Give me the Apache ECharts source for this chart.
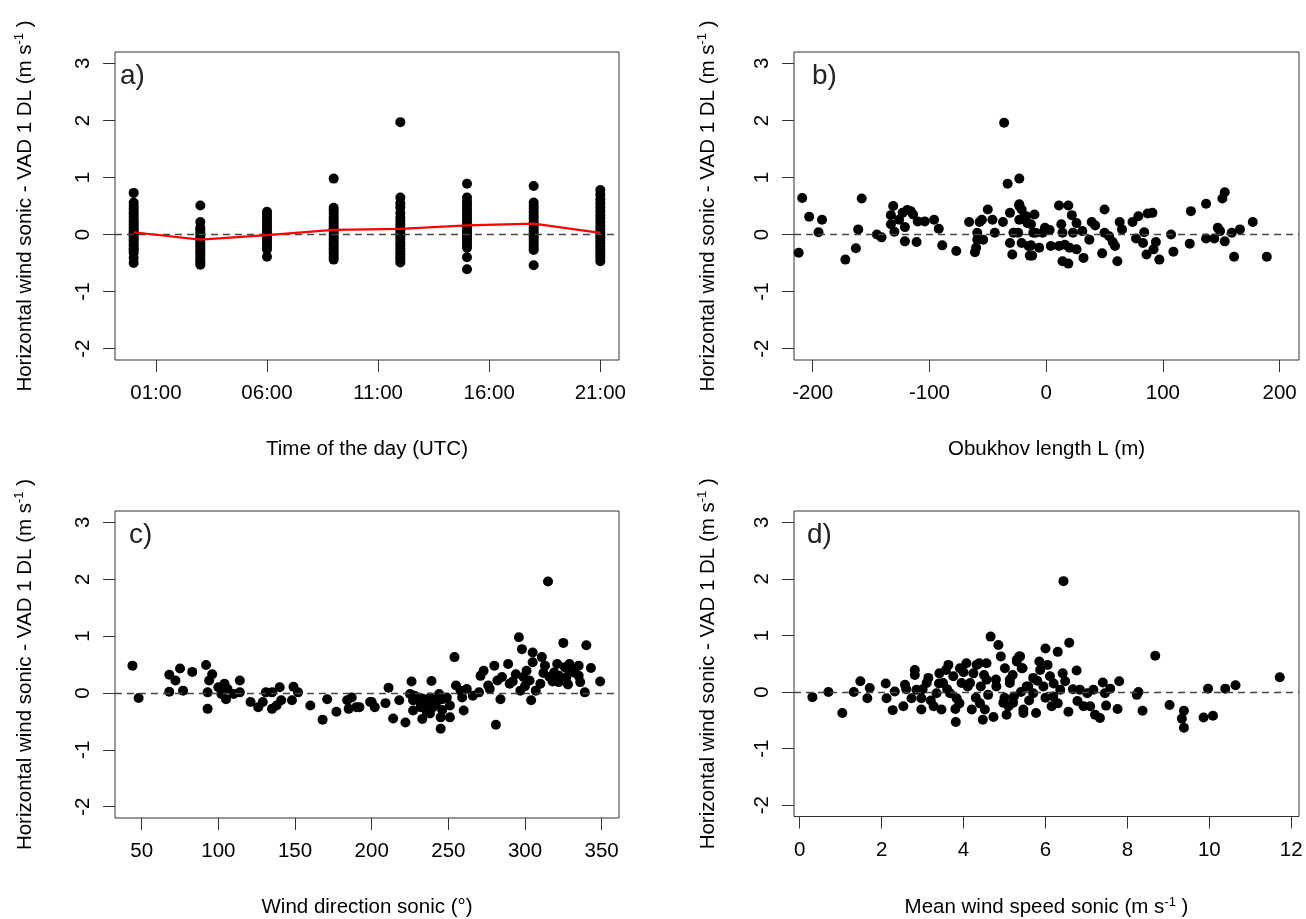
<!DOCTYPE html>
<html>
<head>
<meta charset="utf-8">
<script src="https://cdn.jsdelivr.net/npm/echarts@6/dist/echarts.min.js"></script>
<style>
  html, body { margin: 0; padding: 0; background: #fff; }
  #chart { width: 1306px; height: 919px; }
</style>
</head>
<body>
<div id="chart"></div>
<script>
// a) difference per time of day (hours UTC), one column per 3-hourly slot
const hoursA = [0, 3, 6, 9, 12, 15, 18, 21];
const diffByHour = [
  [0.73, 0.56, 0.50, 0.45, 0.40, 0.36, 0.31, 0.26, 0.22, 0.18, 0.13, 0.09, 0.05, 0.02, -0.02, -0.06, -0.10, -0.15, -0.19, -0.24, -0.28, -0.32, -0.41, -0.50],
  [0.51, 0.22, 0.12, 0.08, 0.03, -0.02, -0.06, -0.10, -0.15, -0.19, -0.23, -0.28, -0.32, -0.36, -0.41, -0.45, -0.49, -0.53],
  [0.40, 0.34, 0.28, 0.22, 0.17, 0.12, 0.07, 0.03, -0.02, -0.06, -0.11, -0.16, -0.21, -0.26, -0.39],
  [0.98, 0.47, 0.42, 0.37, 0.31, 0.26, 0.21, 0.16, 0.11, 0.06, 0.01, -0.04, -0.09, -0.14, -0.19, -0.24, -0.29, -0.34, -0.39, -0.44],
  [1.97, 0.65, 0.55, 0.48, 0.38, 0.30, 0.24, 0.18, 0.12, 0.07, 0.02, -0.03, -0.08, -0.14, -0.19, -0.24, -0.30, -0.35, -0.40, -0.44, -0.49],
  [0.89, 0.65, 0.58, 0.52, 0.46, 0.40, 0.34, 0.28, 0.22, 0.17, 0.12, 0.07, 0.02, -0.03, -0.08, -0.13, -0.18, -0.23, -0.40, -0.61],
  [0.85, 0.56, 0.50, 0.45, 0.39, 0.33, 0.28, 0.22, 0.17, 0.12, 0.07, 0.02, -0.03, -0.08, -0.13, -0.18, -0.23, -0.27, -0.54],
  [0.78, 0.70, 0.62, 0.55, 0.48, 0.41, 0.34, 0.28, 0.22, 0.16, 0.10, 0.05, 0.00, -0.05, -0.10, -0.15, -0.20, -0.25, -0.30, -0.36, -0.41, -0.47]
];
const meanByHour = [0.04, -0.09, -0.01, 0.08, 0.10, 0.16, 0.19, 0.03];

// b) Obukhov length L (m)
const obukhovL = [-212, -209, -203, -195, -192, -172, -163, -161, -158, -145, -141, -133, -131, -133, -130, -126, -123, -121, -121, -119,
  -116, -114, -111, -110, -104, -96, -92, -89, -77, -66, -61, -60, -59, -59, -57, -55, -54, -50, -46, -44,
  -37, -36, -33, -31, -31, -29, -28, -23, -23, -21, -23, -21, -24, -17, -16, -15, -14, -23, -20, -13,
  -10, -11, -9, -13, -12, -6, -3, -1, 3, 4, 11, 11, 13, 14, 14, 16, 19, 19, 20, 22,
  23, 26, 26, 31, 32, 37, 39, 42, 48, 50, 50, 54, 57, 59, 61, 63, 65, 74, 79, 77,
  84, 83, 87, 91, 86, 92, 94, 97, 107, 109, 123, 124, 137, 137, 144, 147, 149, 151, 153, 153,
  159, 161, 166, 177, 189];
const diffL = [-0.32, 0.64, 0.31, 0.04, 0.26, -0.44, -0.24, 0.09, 0.63, 0.00, -0.05, 0.34, 0.50, 0.18, 0.05, 0.26, 0.38, -0.12, 0.13, 0.43,
  0.41, 0.35, -0.13, 0.23, 0.23, 0.26, 0.10, -0.19, -0.29, 0.22, -0.31, -0.23, 0.03, -0.09, 0.22, 0.26, -0.09, 0.44, 0.26, 0.03,
  0.22, 1.96, 0.89, 0.38, -0.15, -0.35, 0.03, 0.98, 0.53, 0.44, 0.26, -0.15, 0.03, 0.32, 0.20, -0.20, -0.37, 0.50, 0.28, 0.18,
  0.35, 0.03, 0.03, -0.19, -0.37, -0.23, 0.03, 0.12, 0.08, -0.20, 0.51, -0.20, 0.18, 0.03, -0.47, -0.18, 0.51, -0.51, -0.23, 0.34,
  0.03, 0.20, -0.26, 0.06, -0.41, -0.09, 0.22, 0.16, -0.33, 0.44, 0.03, -0.03, -0.13, -0.20, -0.47, 0.22, 0.09, 0.22, 0.32, -0.07,
  0.04, -0.15, 0.37, 0.38, -0.35, -0.26, -0.13, -0.44, 0.00, -0.30, -0.16, 0.41, 0.54, -0.07, -0.07, 0.12, 0.06, 0.63, 0.74, -0.12,
  0.03, -0.39, 0.09, 0.22, -0.39];

// c) wind direction sonic (deg)
const windDir = [44, 48, 68, 72, 68, 75, 77, 83, 92, 93, 93, 96, 94, 100, 102, 104, 105, 106, 110, 114,
  114, 121, 126, 129, 131, 135, 135, 138, 140, 141, 148, 149, 152, 160, 168, 171, 177, 184, 185, 187,
  190, 199, 192, 200, 202, 209, 211, 214, 218, 222, 226, 225, 227, 227, 230, 232, 233, 235, 236, 238,
  239, 240, 241, 244, 245, 245, 246, 249, 251, 251, 254, 255, 259, 258, 260, 262, 266, 270, 271, 273,
  276, 277, 280, 281, 282, 284, 285, 289, 290, 294, 296, 298, 297, 299, 301, 303, 304, 305, 307, 305,
  310, 311, 313, 315, 316, 319, 321, 322, 325, 326, 327, 329, 332, 335, 336, 339, 340, 343, 349,
  232, 236, 228, 242, 238, 233, 246, 292, 300, 312, 318, 322, 330, 328, 335];
const diffDir = [0.48, -0.09, 0.32, 0.22, 0.02, 0.43, 0.04, 0.37, 0.49, 0.01, -0.28, 0.33, 0.22, 0.10, -0.02, 0.16, -0.11, 0.07, -0.02, 0.22,
  0.01, -0.16, -0.25, -0.16, 0.01, -0.28, 0.01, -0.22, 0.10, -0.13, -0.13, 0.11, 0.01, -0.22, -0.47, -0.11, -0.33, -0.13, -0.28, -0.08,
  -0.25, -0.16, -0.25, -0.16, -0.25, -0.18, 0.09, -0.45, -0.13, -0.52, 0.20, -0.02, -0.13, -0.31, -0.08, -0.25, -0.46, -0.16, -0.34, -0.08,
  0.21, -0.25, -0.13, -0.02, -0.43, -0.63, -0.11, -0.08, -0.43, -0.22, 0.63, 0.13, -0.08, 0.04, -0.31, 0.07, -0.05, 0.01, 0.30, 0.39,
  0.13, 0.07, 0.48, -0.56, 0.22, -0.11, 0.28, 0.51, 0.16, 0.33, 0.98, 0.77, 0.04, 0.28, 0.39, 0.22, -0.13, 0.71, 0.04, 0.54,
  0.16, 0.63, 0.48, 1.96, 0.28, 0.36, 0.51, 0.19, 0.88, 0.45, 0.28, 0.51, 0.36, 0.48, 0.19, 0.01, 0.84, 0.44, 0.20,
  -0.20, -0.28, -0.05, -0.18, -0.36, -0.10, -0.30, 0.20, 0.12, 0.35, 0.20, 0.30, 0.40, 0.15, 0.30];

// d) mean wind speed sonic (m/s)
const windSpeed = [0.31, 0.70, 1.04, 1.32, 1.48, 1.65, 1.71, 2.10, 2.12, 2.27, 2.32, 2.53, 2.57, 2.73, 2.81, 2.81, 2.85, 2.97, 2.97, 3.10,
  3.14, 3.27, 3.34, 3.41, 3.46, 3.50, 3.57, 3.63, 3.67, 3.75, 3.81, 3.83, 3.91, 3.95, 4.07, 4.16, 4.20, 4.24, 4.32, 4.38,
  4.42, 4.47, 4.52, 4.56, 4.56, 4.66, 4.73, 4.79, 4.85, 4.91, 4.97, 5.01, 5.05, 5.13, 5.23, 5.30, 5.36, 5.42, 5.46, 5.54,
  5.13, 5.21, 5.30, 5.38, 5.44, 5.46, 5.58, 5.70, 5.77, 5.85, 5.87, 5.95, 6.00, 6.05, 6.11, 6.15, 6.19, 6.30, 6.36, 6.42,
  6.44, 6.48, 6.56, 6.58, 6.67, 6.76, 6.78, 6.84, 6.93, 7.02, 7.09, 7.17, 7.21, 7.33, 7.40, 7.45, 7.48, 7.58, 7.76, 7.80,
  8.23, 8.27, 8.37, 8.68, 9.03, 9.38, 9.33, 9.38, 9.86, 9.97, 10.09, 10.39, 10.64, 11.72,
  3.0, 3.2, 3.6, 3.9, 4.1, 4.3, 4.5, 4.6, 4.8, 5.0, 5.2, 5.4, 5.6, 5.8, 6.0, 6.2, 4.0, 3.4, 2.6, 3.8, 4.4, 5.1, 5.7, 6.3];
const diffSpeed = [-0.09, 0.00, -0.37, 0.00, 0.19, -0.11, 0.07, 0.15, -0.11, -0.32, 0.01, -0.25, 0.13, -0.11, 0.39, 0.30, 0.04, -0.31, -0.11, 0.16,
  0.25, -0.25, -0.02, 0.33, -0.31, 0.16, 0.39, 0.48, -0.02, 0.28, -0.53, -0.11, 0.42, 0.16, 0.51, 0.16, -0.31, 0.33, 0.48, 0.51,
  0.10, -0.49, -0.31, 0.51, 0.22, 0.98, -0.44, 0.22, 0.83, 0.63, -0.19, 0.42, -0.40, 0.16, -0.08, 0.54, 0.63, 0.42, -0.31, 0.10,
  0.22, -0.19, 0.57, 0.63, 0.42, -0.37, 0.10, -0.02, -0.37, 0.54, 0.39, 0.10, 0.77, 0.48, 0.28, -0.25, -0.08, 0.71, 0.04, 0.33,
  1.96, 0.19, -0.35, 0.87, 0.05, 0.38, -0.16, 0.04, -0.25, -0.02, -0.25, 0.04, -0.40, -0.46, 0.17, -0.02, -0.24, 0.06, -0.30, 0.19,
  -0.05, 0.00, -0.33, 0.64, -0.23, -0.33, -0.47, -0.63, -0.45, 0.06, -0.42, 0.06, 0.12, 0.26,
  0.05, -0.15, 0.05, -0.20, 0.10, -0.10, 0.30, -0.05, 0.10, -0.10, 0.30, 0.00, -0.15, 0.20, -0.10, 0.15, 0.35, 0.15, 0.05, -0.30, -0.20, -0.25, 0.25, -0.20];

const yTicks = [-2, -1, 0, 1, 2, 3];
const hourTicks = [1, 6, 11, 16, 21];
const obukhovTicks = [-200, -100, 0, 100, 200];
const dirTicks = [50, 100, 150, 200, 250, 300, 350];
const speedTicks = [0, 2, 4, 6, 8, 10, 12];

const FONT = 'Arial, "Liberation Sans", sans-serif';
const FS = 20.5;
const zip = (xs, ys) => xs.map((x, i) => [x, ys[i]]);

const chart = echarts.init(document.getElementById('chart'));

const grids = [
  { left: 115, top: 52, width: 504, height: 308 },
  { left: 794, top: 52, width: 505, height: 308 },
  { left: 115, top: 511, width: 504, height: 307 },
  { left: 794, top: 511, width: 505, height: 307 }
].map(g => Object.assign(g, { show: true, borderColor: '#333', borderWidth: 1, backgroundColor: '#fff' }));

const nameStyle = {
  fontFamily: FONT, fontSize: FS, color: '#000',
  rich: { sup: { fontFamily: FONT, fontSize: 13, color: '#000', verticalAlign: 'top', padding: [0, 0, 11, 0] } }
};

function xAxisOf(i, min, max, ticks, name, fmt) {
  return {
    type: 'value', gridIndex: i, min: min, max: max,
    name: name, nameLocation: 'middle', nameGap: 79,
    nameTextStyle: nameStyle,
    axisLine: { show: false, onZero: false },
    axisTick: { show: true, length: 12, customValues: ticks, lineStyle: { color: '#333' } },
    axisLabel: { customValues: ticks, margin: 23, fontFamily: FONT, fontSize: FS, color: '#000',
      formatter: fmt || (v => String(v)) },
    splitLine: { show: false }
  };
}

function yAxisOf(i, gap) {
  return {
    type: 'value', gridIndex: i, min: -2.2, max: 3.2,
    name: 'Horizontal wind sonic - VAD 1 DL (m s{sup|-1} )',
    nameLocation: 'middle', nameGap: gap, nameRotate: 90,
    nameTextStyle: nameStyle,
    axisLine: { show: false, onZero: false },
    axisTick: { show: true, length: 12, customValues: yTicks, lineStyle: { color: '#333' } },
    axisLabel: { customValues: yTicks, rotate: 90, margin: 21, fontFamily: FONT, fontSize: FS, color: '#000' },
    splitLine: { show: false }
  };
}

const zeroLine = {
  silent: true, symbol: 'none', label: { show: false },
  lineStyle: { color: '#444', type: [7, 5], width: 1.3 },
  data: [{ yAxis: 0 }]
};

const dot = { symbol: 'circle', symbolSize: 10, itemStyle: { color: '#000', opacity: 1 } };

const pointsA = [];
hoursA.forEach((h, i) => diffByHour[i].forEach(v => pointsA.push([h, v])));

const panelLabels = [['a)', 120, 62], ['b)', 812, 62], ['c)', 129, 521], ['d)', 807, 521]];

chart.setOption({
  animation: false,
  backgroundColor: '#fff',
  title: panelLabels.map(([t, x, y]) => ({
    text: t, left: x, top: y, padding: 0,
    textStyle: { fontFamily: FONT, fontSize: 28, fontWeight: 'normal', color: '#222' }
  })),
  grid: grids,
  xAxis: [
    xAxisOf(0, -0.84, 21.84, hourTicks, 'Time of the day (UTC)', v => (v < 10 ? '0' : '') + v + ':00'),
    xAxisOf(1, -216, 216.6, obukhovTicks, 'Obukhov length L (m)'),
    xAxisOf(2, 32.6, 361.3, dirTicks, 'Wind direction sonic (°)'),
    xAxisOf(3, -0.14, 12.19, speedTicks, 'Mean wind speed sonic (m s{sup|-1} )')
  ],
  yAxis: [yAxisOf(0, 78), yAxisOf(1, 74), yAxisOf(2, 78), yAxisOf(3, 74)],
  series: [
    Object.assign({ type: 'scatter', xAxisIndex: 0, yAxisIndex: 0, data: pointsA, markLine: zeroLine }, dot),
    { type: 'line', xAxisIndex: 0, yAxisIndex: 0, data: zip(hoursA, meanByHour), symbol: 'none',
      lineStyle: { color: '#ff0000', width: 2.2 }, z: 5 },
    Object.assign({ type: 'scatter', xAxisIndex: 1, yAxisIndex: 1, data: zip(obukhovL, diffL), markLine: zeroLine }, dot),
    Object.assign({ type: 'scatter', xAxisIndex: 2, yAxisIndex: 2, data: zip(windDir, diffDir), markLine: zeroLine }, dot),
    Object.assign({ type: 'scatter', xAxisIndex: 3, yAxisIndex: 3, data: zip(windSpeed, diffSpeed), markLine: zeroLine }, dot)
  ]
});
</script>
</body>
</html>
